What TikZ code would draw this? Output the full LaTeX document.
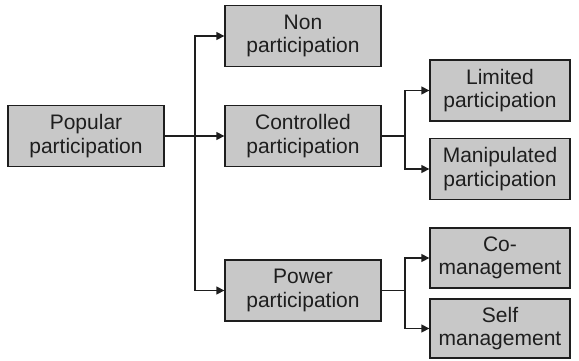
\documentclass[tikz,border=0pt]{standalone}
\usepackage{fontspec}
\setmainfont{Liberation Sans}
\usetikzlibrary{arrows.meta}
\definecolor{boxgray}{RGB}{200,200,200}
\definecolor{inkgray}{RGB}{30,30,30}
\begin{document}
\begin{tikzpicture}[x=1pt, y=1pt,
    box/.style={draw=inkgray, line width=1.3pt, fill=boxgray, align=center,
        inner sep=0pt, text=inkgray, font=\fontsize{21}{23.5}\selectfont},
    wide/.style={box, minimum width=156pt, minimum height=61pt},
    narrow/.style={box, minimum width=140pt, minimum height=61pt},
    arr/.style={draw=inkgray, line width=1.3pt, -{Triangle[length=8pt, width=8pt]}},
    link/.style={draw=inkgray, line width=1.3pt}]
    \useasboundingbox (0,0) rectangle (579,360);

    % Left and middle column
    \node[wide] (popular) at (86,224) {Popular\\participation};
    \node[wide] (non) at (303,324) {Non\\participation};
    \node[wide] (controlled) at (303,224) {Controlled\\participation};
    \node[wide] (power) at (303,69.5) {Power\\participation};

    % Right column
    \node[narrow] (limited) at (500,269.5) {Limited\\participation};
    \node[narrow] (manipulated) at (500,191) {Manipulated\\participation};
    \node[narrow, minimum height=60pt] (comanagement) at (500,102) {Co-\\management};
    \node[narrow, minimum height=59pt] (selfmanagement) at (500,31.5) {Self\\management};

    % Branch points
    \coordinate (trunk) at (195,224);
    \coordinate (ctrlfork) at (405,224);
    \coordinate (powfork) at (405,69.5);

    % Connectors
    \draw[arr] (popular.east) -- (controlled.west);
    \draw[arr] (trunk) |- (non.west);
    \draw[arr] (trunk) |- (power.west);

    \draw[link] (controlled.east) -- (ctrlfork);
    \draw[arr] (ctrlfork) |- (limited.west);
    \draw[arr] (ctrlfork) |- (manipulated.west);

    \draw[link] (power.east) -- (powfork);
    \draw[arr] (powfork) |- (comanagement.west);
    \draw[arr] (powfork) |- (selfmanagement.west);
\end{tikzpicture}
\end{document}
